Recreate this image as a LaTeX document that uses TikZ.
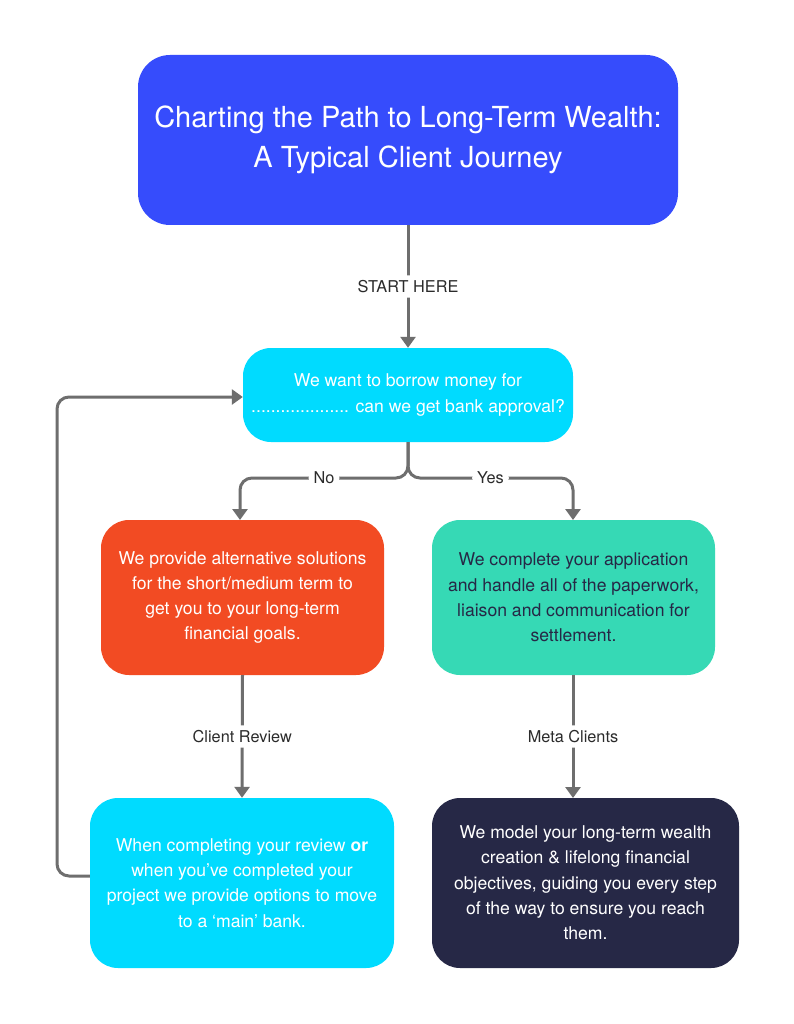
\documentclass[tikz,border=0pt]{standalone}
\usepackage{fontspec}
\setmainfont{TeX Gyre Heros}
\usetikzlibrary{arrows.meta}
\definecolor{titleblue}{HTML}{364CFC}
\definecolor{qcyan}{HTML}{00DBFF}
\definecolor{altred}{HTML}{F24B23}
\definecolor{okgreen}{HTML}{36D9B5}
\definecolor{navy}{HTML}{262846}
\definecolor{linegray}{HTML}{6E6E6E}
\definecolor{labelgray}{HTML}{2B2B2B}
\tikzset{
  box/.style={rectangle, rounded corners=28pt, align=center, inner sep=0pt, font=\fontsize{17.6}{25.3}\selectfont},
  conn/.style={draw=linegray, line width=3pt, -{Triangle[width=15pt,length=11pt]}, rounded corners=12pt},
  lab/.style={fill=white, text=labelgray, inner sep=5pt, font=\fontsize{16.3}{18}\selectfont}
}
\begin{document}
\begin{tikzpicture}[x=1pt,y=-1pt]
\useasboundingbox (0,0) rectangle (794,1024);
\fill[white] (0,0) rectangle (794,1024);
\node[box, fill=titleblue, text=white, minimum width=540pt, minimum height=170pt, rounded corners=32pt, font=\fontsize{29}{40}\selectfont] (title) at (408,140) {Charting the Path to Long-Term Wealth:\\A Typical Client Journey};
\node[box, fill=qcyan, text=white, minimum width=330pt, minimum height=94pt] (q) at (408,395) {We want to borrow money for\\.................... can we get bank approval?};
\node[box, fill=altred, text=white, minimum width=283pt, minimum height=155pt] (alt) at (242.5,597.5) {We provide alternative solutions\\for the short/medium term to\\get you to your long-term\\financial goals.};
\node[box, fill=okgreen, text=navy, minimum width=283pt, minimum height=155pt] (app) at (573.5,597.5) {We complete your application\\and handle all of the paperwork,\\liaison and communication for\\settlement.};
\node[box, fill=qcyan, text=white, minimum width=304pt, minimum height=170pt] (rev) at (242,883) {When completing your review \textbf{or}\\when you’ve completed your\\project we provide options to move\\to a ‘main’ bank.};
\node[box, fill=navy, text=white, minimum width=307pt, minimum height=170pt] (model) at (585.5,883) {We model your long-term wealth\\creation \& lifelong financial\\objectives, guiding you every step\\of the way to ensure you reach\\them.};
% connectors
\draw[conn] (title.south) -- node[lab]{START HERE} (q.north);
\coordinate (split) at (408,478);
\coordinate (altin) at (240,520);
\coordinate (appin) at (573,520);
\draw[conn] (q.south) -- (split) -| node[lab, pos=0.25]{No} (altin);
\draw[conn] (q.south) -- (split) -| node[lab, pos=0.25]{Yes} (appin);
\draw[conn] (alt.south) -- node[lab]{Client Review} (rev.north);
\coordinate (appout) at (573,675);
\coordinate (modelin) at (573,798);
\draw[conn] (appout) -- node[lab]{Meta Clients} (modelin);
\coordinate (loop) at (57,876);
\draw[conn] ([yshift=7pt]rev.west) -- (loop) |- ([yshift=-2pt]q.west);
\end{tikzpicture}
\end{document}
